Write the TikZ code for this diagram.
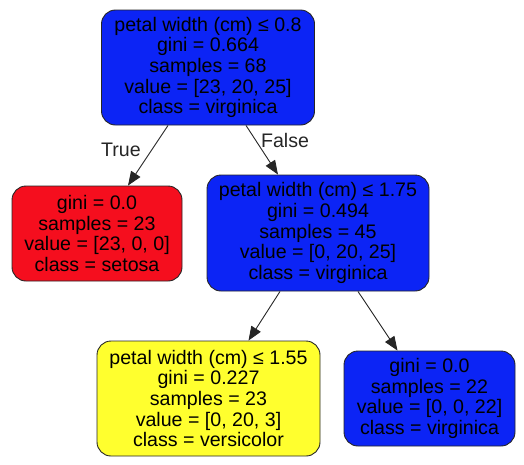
\documentclass[tikz,border=0pt]{standalone}
\usepackage{fontspec}
\setmainfont{Liberation Sans}
\usetikzlibrary{arrows.meta}
\definecolor{leafblue}{RGB}{12,36,245}
\definecolor{leafred}{RGB}{245,14,30}
\definecolor{leafyellow}{RGB}{255,255,46}
\tikzset{
	treenode/.style={draw=black!85, line width=0.9pt, rounded corners=14pt, align=center,
		inner sep=0pt, font=\fontsize{19.6}{20.6}\selectfont},
	treeedge/.style={draw=black!85, line width=0.9pt, -{Triangle[length=14pt,width=11pt]}},
	edgelabel/.style={font=\fontsize{19.6}{20.6}\selectfont, text=black!85}
}
\begin{document}
\begin{tikzpicture}[x=1pt,y=-1pt]
	% 设置节点的宽度和高度
	\def\splitWidth{213}
	\def\splitHeight{115}
	\def\leafWidth{170}
	\def\leafHeight{95}
	\useasboundingbox (0,0) rectangle (524,464);

	% 根节点
	\node[treenode, fill=leafblue, minimum width=\splitWidth, minimum height=\splitHeight] (root) at (208,67.5)
		{petal width (cm) ≤ 0.8\\gini = 0.664\\samples = 68\\value = [23, 20, 25]\\class = virginica};

	% 第二层
	\node[treenode, fill=leafred, minimum width=\leafWidth, minimum height=\leafHeight] (setosa) at (97,233.5)
		{gini = 0.0\\samples = 23\\value = [23, 0, 0]\\class = setosa};
	\node[treenode, fill=leafblue, minimum width=\splitWidth+9, minimum height=\splitHeight+1] (split) at (318,233)
		{petal width (cm) ≤ 1.75\\gini = 0.494\\samples = 45\\value = [0, 20, 25]\\class = virginica};

	% 第三层
	\node[treenode, fill=leafyellow, minimum width=\splitWidth+10, minimum height=\splitHeight] (versicolor) at (208.5,398.5)
		{petal width (cm) ≤ 1.55\\gini = 0.227\\samples = 23\\value = [0, 20, 3]\\class = versicolor};
	\node[treenode, fill=leafblue, minimum width=\leafWidth+1, minimum height=\leafHeight] (virginica) at (429.5,398.5)
		{gini = 0.0\\samples = 22\\value = [0, 0, 22]\\class = virginica};

	% 连线
	\draw[treeedge] ([xshift=-40pt]root.south) -- ([xshift=31pt]setosa.north);
	\draw[treeedge] ([xshift=38pt]root.south) -- ([xshift=-40pt]split.north);
	\draw[treeedge] ([xshift=-38pt]split.south) -- ([xshift=40pt]versicolor.north);
	\draw[treeedge] ([xshift=40pt]split.south) -- ([xshift=-32pt]virginica.north);

	% 标签
	\node[edgelabel] (truelabel) at (121,150) {True};
	\node[edgelabel] (falselabel) at (285,140) {False};
\end{tikzpicture}
\end{document}
